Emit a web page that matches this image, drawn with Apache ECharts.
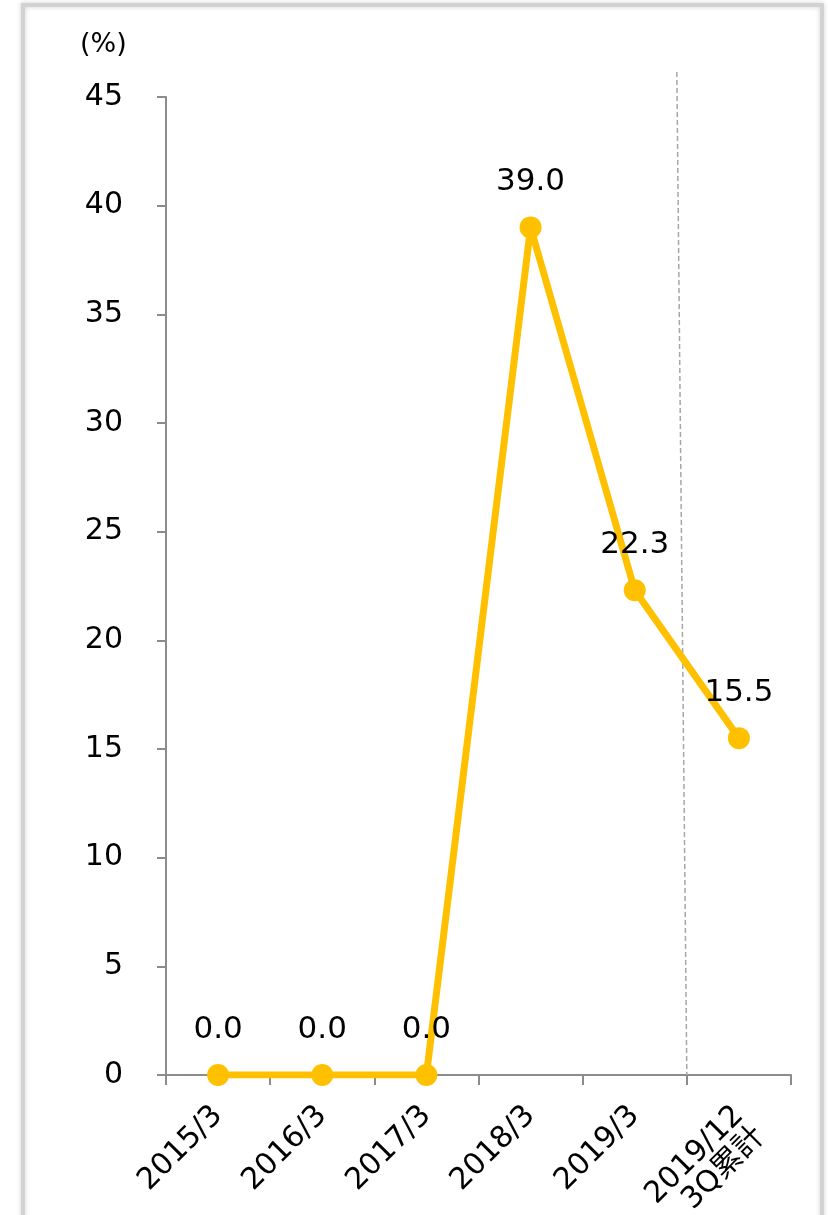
<!DOCTYPE html>
<html>
<head>
<meta charset="utf-8">
<style>
  html, body { margin: 0; padding: 0; background: #ffffff; overflow: hidden; }
  #chart { width: 828px; height: 1215px; }
</style>
<script src="https://cdn.jsdelivr.net/npm/echarts@6/dist/echarts.min.js"></script>
</head>
<body>
<div id="chart"></div>
<script>
// Fiscal periods on the category axis
const categories = ['2015/3', '2016/3', '2017/3', '2018/3', '2019/3', '2019/12\n3Q累計'];
// Ratio (%) per period
const values = [0.0, 0.0, 0.0, 39.0, 22.3, 15.5];
// Value axis range and step
const yMin = 0;
const yMax = 45;
const yStep = 5;
const unitLabel = '(%)';

const FONT = '"DejaVu Sans", Verdana, "Noto Sans CJK JP", sans-serif';
const AXIS_COLOR = '#8c8c8c';
const LINE_COLOR = '#FFC000';

const chart = echarts.init(document.getElementById('chart'), null, { renderer: 'canvas' });

const option = {
  backgroundColor: '#ffffff',
  animation: false,
  grid: { left: 166, right: 37, top: 97, bottom: 140, containLabel: false, outerBoundsMode: 'none' },
  xAxis: {
    type: 'category',
    data: categories,
    boundaryGap: true,
    axisLine: { show: true, lineStyle: { color: AXIS_COLOR, width: 2 } },
    axisTick: { show: true, length: 10, lineStyle: { color: AXIS_COLOR, width: 2 } },
    axisLabel: {
      rotate: 45,
      margin: 36,
      color: '#000000',
      fontSize: 30,
      fontFamily: FONT,
      interval: 0,
      lineHeight: 30,
      // a blank leading line keeps the first line of a two-line label
      // on the same spot as the single-line labels
      formatter: function (v) { return v.indexOf('\n') >= 0 ? ' \n' + v : v; }
    },
    splitLine: { show: false }
  },
  yAxis: {
    type: 'value',
    min: yMin,
    max: yMax,
    interval: yStep,
    axisLine: { show: true, lineStyle: { color: AXIS_COLOR, width: 2 } },
    axisTick: { show: true, length: 9, lineStyle: { color: AXIS_COLOR, width: 2 } },
    axisLabel: {
      margin: 43,
      color: '#000000',
      fontSize: 30,
      fontFamily: FONT
    },
    splitLine: { show: false }
  },
  series: [{
    type: 'line',
    data: values,
    symbol: 'circle',
    symbolSize: 22,
    lineStyle: { color: LINE_COLOR, width: 7 },
    itemStyle: { color: LINE_COLOR },
    label: {
      show: true,
      position: 'top',
      distance: 19,
      color: '#000000',
      fontSize: 31,
      fontFamily: FONT,
      formatter: function (p) { return p.value.toFixed(1); }
    },
    z: 5
  }],
  graphic: [
    {
      type: 'rect',
      silent: true,
      z: 0,
      shape: { x: 23, y: 5, width: 799, height: 1260 },
      style: {
        fill: 'none',
        stroke: '#d2d2d2',
        lineWidth: 4,
        shadowBlur: 5,
        shadowColor: 'rgba(0,0,0,0.18)'
      }
    },
    {
      type: 'text',
      left: 80,
      top: 31,
      style: { text: unitLabel, fill: '#000000', fontSize: 27, fontFamily: FONT }
    }
  ]
};

chart.setOption(option);

// Dashed separator between the fiscal-year periods and the cumulative period
const lastFull = chart.convertToPixel({ xAxisIndex: 0 }, categories[4]);
const cumul = chart.convertToPixel({ xAxisIndex: 0 }, categories[5]);
const sepX = (lastFull + cumul) / 2;
const baseY = chart.convertToPixel({ yAxisIndex: 0 }, yMin);
const topY = chart.convertToPixel({ yAxisIndex: 0 }, 46.15);
chart.setOption({
  graphic: [
    {}, {},
    {
      type: 'line',
      silent: true,
      z: 1,
      shape: { x1: sepX - 10, y1: topY, x2: sepX, y2: baseY },
      style: { stroke: '#a6a6a6', lineWidth: 1.5, lineDash: [5, 3] }
    }
  ]
});
</script>
</body>
</html>
